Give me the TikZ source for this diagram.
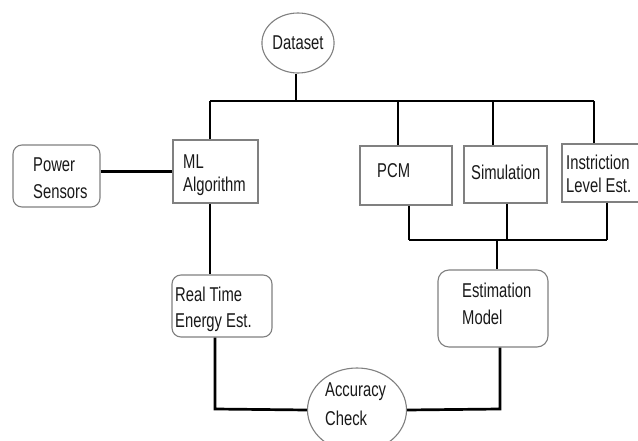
\documentclass[tikz,border=0pt]{standalone}
\usepackage{fontspec}
\setmainfont{Liberation Sans}[FakeStretch=0.74]
\usetikzlibrary{shapes.geometric}
\begin{document}
\begin{tikzpicture}[x=1pt,y=-1pt,
  bus/.style={line width=2.7pt, black},
  wire/.style={line width=2.1pt, black},
  box/.style={draw=black!50, line width=1.1pt, inner sep=0pt, fill=white},
  rbox/.style={box, rounded corners=9pt},
  oval/.style={ellipse, draw=black!50, line width=1.1pt, inner sep=0pt, fill=white},
  lbl/.style={anchor=north west, inner sep=0pt, align=left, text=black!90}]
\useasboundingbox (0,0) rectangle (638,441);
\fill[white] (0,0) rectangle (638,441);
% coordinates of junctions
\coordinate (b1L) at (210,101);
\coordinate (b1D) at (296,101);
\coordinate (b1P) at (398,101);
\coordinate (b1S) at (493,101);
\coordinate (b1I) at (594,101);
\coordinate (b2P) at (409,240);
\coordinate (b2S) at (507,240);
\coordinate (b2I) at (607,240);
\coordinate (b2E) at (497,240);
\coordinate (cA) at (215,409);
\coordinate (cB) at (500,409);
\coordinate (cM) at (210,240);
% bus lines (under the shapes)
\draw[bus] (b1L) -- (b1I);
\draw[bus] (b2P) -- (b2I);
% shapes
\node[oval, minimum width=70pt, minimum height=60pt, font=\fontsize{20}{23}\selectfont, text=black!90] (dataset) at (298,43) {Dataset};
\node[box, minimum width=85pt, minimum height=63pt] (ml) at (215.5,171.5) {};
\node[box, minimum width=92pt, minimum height=59pt] (pcm) at (406,175.5) {};
\node[box, minimum width=83pt, minimum height=57pt] (sim) at (505.5,174.5) {};
\node[box, minimum width=78pt, minimum height=58pt] (instr) at (601,173) {};
\node[rbox, minimum width=87pt, minimum height=62pt] (power) at (56.5,176) {};
\node[rbox, minimum width=100pt, minimum height=62pt] (rt) at (222,306) {};
\node[rbox, minimum width=110pt, minimum height=77pt, rounded corners=11pt] (est) at (493,308.5) {};
\node[oval, minimum width=99pt, minimum height=84pt] (acc) at (357,410) {};
% connectors
\draw[wire] (b1D |- dataset.south) -- (b1D);
\draw[wire] (b1L) -- (b1L |- ml.north);
\draw[wire] (b1P) -- (b1P |- pcm.north);
\draw[wire] (b1S) -- (b1S |- sim.north);
\draw[wire] (b1I) -- (b1I |- instr.north);
\draw[bus] (power.east |- ml.west) -- (ml.west);
\draw[wire] (b2P |- pcm.south) -- (b2P);
\draw[wire] (b2S |- sim.south) -- (b2S);
\draw[wire] (b2I |- instr.south) -- (b2I);
\draw[wire] (b2E) -- (b2E |- est.north);
\draw[wire] (cM |- ml.south) -- (cM |- rt.north);
\draw[bus] (cA |- rt.south) -- (cA) -- (acc.west);
\draw[bus] (acc.east) -- (cB) -- (cB |- est.south);
% texts
\node[lbl, font=\fontsize{20}{27}\selectfont] (tpower) at (33,158) {Power\\Sensors};
\node[lbl, font=\fontsize{20}{23}\selectfont] (tml) at (183,155) {ML\\Algorithm};
\node[lbl, font=\fontsize{20}{23}\selectfont] (tpcm) at (377,163) {PCM};
\node[lbl, font=\fontsize{20}{23}\selectfont] (tsim) at (471,165) {Simulation};
\node[lbl, font=\fontsize{20}{23}\selectfont] (tinstr) at (566,155) {Instriction\\Level Est.};
\node[lbl, font=\fontsize{20}{26}\selectfont] (trt) at (175,287) {Real Time\\Energy Est.};
\node[lbl, font=\fontsize{20}{27}\selectfont] (test) at (462,283) {Estimation\\Model};
\node[lbl, font=\fontsize{20}{29}\selectfont] (tacc) at (325,383) {Accuracy\\Check};
\end{tikzpicture}
\end{document}
